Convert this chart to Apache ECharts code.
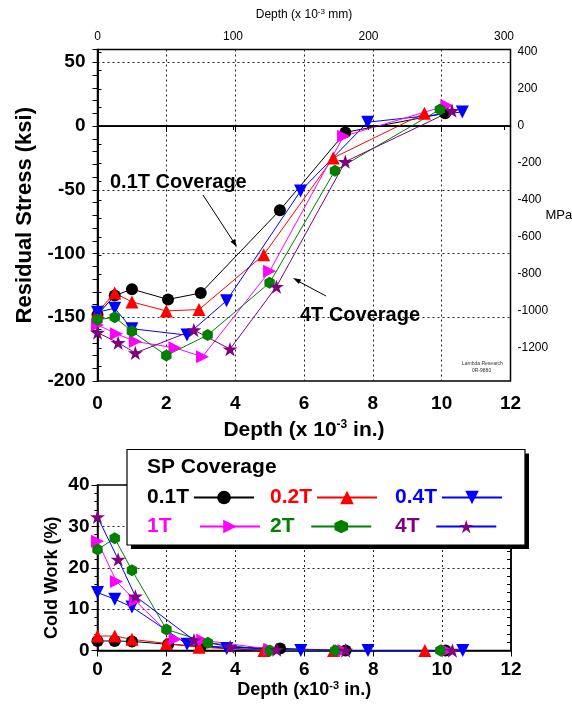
<!DOCTYPE html>
<html>
<head>
<meta charset="utf-8">
<script src="https://cdn.jsdelivr.net/npm/echarts@6/dist/echarts.min.js"></script>
<style>
  html, body { margin: 0; padding: 0; background: #fff; }
  #chart { width: 572px; height: 708px; }
</style>
</head>
<body>
<div id="chart"></div>
<script>
// series names
const names = ['0.1T', '0.2T', '0.4T', '1T', '2T', '4T'];

// depth (x 10^-3 in.) of each measurement point, per coverage
const depth01 = [0, 0.5, 1.0, 2.05, 3.0, 5.3, 7.2, 10.1];
const depth02 = [0, 0.5, 1.0, 2.0, 2.95, 4.83, 6.85, 9.5];
const depth04 = [0, 0.5, 1.0, 2.6, 3.75, 5.9, 7.85, 10.6];
const depth1 = [0, 0.55, 1.1, 2.25, 3.05, 5.0, 7.15, 10.15];
const depth2 = [0, 0.5, 1.0, 2.0, 3.2, 5.0, 6.9, 9.95];
const depth4 = [0, 0.6, 1.1, 2.8, 3.85, 5.2, 7.2, 10.3];

// residual stress (ksi)
const stress01 = [-148, -133, -128, -136, -131, -66, -5, 10];
const stress02 = [-146, -131, -138, -145, -144, -101, -25, 10];
const stress04 = [-146, -143, -159, -164, -137, -51, 3, 11];
const stress1 = [-156, -163, -169, -174, -181, -114, -8, 16];
const stress2 = [-152, -150, -161, -180, -164, -123, -35, 13];
const stress4 = [-162, -170, -178, -160, -175, -126, -28, 12];

// cold work (%)
const cold01 = [2.3, 2.3, 2.2, 1.5, 1.0, 0.5, 0, 0];
const cold02 = [3.5, 3.5, 2.7, 1.7, 0.8, 0, 0, 0];
const cold04 = [14.0, 12.4, 10.5, 1.5, 0.5, 0, 0, 0];
const cold1 = [26.4, 16.7, 12.0, 2.7, 2.5, 0.3, 0, 0];
const cold2 = [24.4, 27.1, 19.4, 5.1, 1.9, 0, 0, 0];
const cold4 = [32.3, 22.0, 13.1, 2.5, 0.9, 0.2, 0, 0];

// tick labels of the MPa axis
const mpaLabels = [-1200, -1000, -800, -600, -400, -200, 0, 200, 400];
const mpaTicks = [-1300, -1200, -1100, -1000, -900, -800, -700, -600, -500, -400, -300, -200, -100, 0, 100, 200, 300, 400];

const depths = [depth01, depth02, depth04, depth1, depth2, depth4];
const stresses = [stress01, stress02, stress04, stress1, stress2, stress4];
const colds = [cold01, cold02, cold04, cold1, cold2, cold4];

const KSI_TO_MPA = 6.895;
const FONT = 'Liberation Sans, Arial, sans-serif';

const STAR = 'path://M0,-100 L22.45,-30.9 L95.1,-30.9 L36.3,11.8 L58.8,80.9 L0,38.2 L-58.8,80.9 L-36.3,11.8 L-95.1,-30.9 L-22.45,-30.9 Z';
const HEX = 'path://M0,-100 L86.6,-50 L86.6,50 L0,100 L-86.6,50 L-86.6,-50 Z';

const colors = ['#000000', '#ff0000', '#0000ff', '#ff00ff', '#008000', '#800080'];
const symbols = ['circle', 'triangle', 'triangle', 'triangle', HEX, STAR];
const rotates = [0, 0, 180, -90, 0, 0];
const sizes = [12, 13, 13, 13, 12, 15];
const topLine = ['#000000', '#ff0000', '#0000ff', '#ff00ff', '#008000', '#800080'];
const bottomLine = ['#000000', '#ff0000', '#0000ff', '#ff00ff', '#008000', '#0000ff'];

function makeSeries(i, xi, yi, ys, lineColor) {
  return {
    name: names[i],
    type: 'line',
    xAxisIndex: xi,
    yAxisIndex: yi,
    data: depths[i].map((x, k) => [x, ys[k]]),
    symbol: symbols[i],
    symbolRotate: rotates[i],
    symbolSize: sizes[i],
    symbolKeepAspect: true,
    showAllSymbol: true,
    itemStyle: { color: colors[i] },
    lineStyle: { color: lineColor, width: 1 },
    emphasis: { disabled: true },
    animation: false
  };
}

const series = [];
// bottom chart first so the legend takes its (blue line) 4T icon
for (let i = 0; i < 6; i++) series.push(makeSeries(i, 2, 3, colds[i], bottomLine[i]));
for (let i = 0; i < 6; i++) series.push(makeSeries(i, 0, 0, stresses[i], topLine[i]));
// zero line of top chart
series[6].markLine = {
  silent: true,
  symbol: 'none',
  label: { show: false },
  lineStyle: { color: '#000', type: 'solid', width: 1.2 },
  animation: false,
  data: [{ yAxis: 0 }]
};

const axisLine = { show: true, lineStyle: { color: '#000', width: 1.5 } };
const dotted = { show: true, showMinLine: false, showMaxLine: false, lineStyle: { color: '#222', type: [2, 3], width: 1 } };
const boldLabel = { color: '#000', fontSize: 19, fontWeight: 'bold', fontFamily: FONT };

const legendLeft = [147, 270, 395, 147, 270, 395];
const legendTop = [487, 487, 487, 516, 516, 516];
const legendAlign = ['right', 'right', 'right', 'left', 'center', 'center'];

const legends = names.map((n, i) => ({
  data: [n],
  left: legendLeft[i],
  top: legendTop[i],
  align: 'right',
  padding: 0,
  itemWidth: 60,
  itemHeight: 17,
  selectedMode: false,
  z: 20,
  formatter: '{t|{name}}',
  textStyle: {
    rich: {
      t: { width: 48, align: legendAlign[i], color: colors[i], fontSize: 21, fontWeight: 'bold', fontFamily: FONT }
    }
  }
}));

const option = {
  backgroundColor: '#fff',
  animation: false,
  grid: [
    { left: 97.5, right: 61.5, top: 49.5, bottom: 327, outerBoundsMode: 'none', containLabel: false, show: true, borderColor: '#000', borderWidth: 1.5, backgroundColor: 'transparent' },
    { left: 97.5, right: 61, top: 485, bottom: 57.5, outerBoundsMode: 'none', containLabel: false, show: true, borderColor: '#000', borderWidth: 1.5, backgroundColor: 'transparent' }
  ],
  legend: legends,
  xAxis: [
    {
      gridIndex: 0, type: 'value', position: 'bottom', min: 0, max: 12, interval: 2,
      axisLine: axisLine, axisTick: { show: true, length: 6, lineStyle: { color: '#000' } },
      axisLabel: Object.assign({ margin: 13 }, boldLabel),
      splitLine: dotted,
      name: '{a|Depth (x 10}{s|-3}{a| in.)}', nameLocation: 'middle', nameGap: 38, nameMoveOverlap: false,
      nameTextStyle: { rich: {
        a: { fontSize: 21, fontWeight: 'bold', fontFamily: FONT, color: '#000' },
        s: { fontSize: 12, fontWeight: 'bold', fontFamily: FONT, color: '#000', padding: [0, 0, 10, 0] }
      } }
    },
    {
      gridIndex: 0, type: 'value', position: 'top', min: 0, max: 12 * 25.4, interval: 100,
      axisLine: axisLine, axisTick: { show: true, inside: true, length: 4, lineStyle: { color: '#000' } },
      axisLabel: { color: '#000', fontSize: 12, fontFamily: FONT, margin: 7, formatter: v => (Math.round(v) % 100 === 0 ? String(Math.round(v)) : '') },
      splitLine: { show: false },
      name: '{a|Depth (x 10}{s|-3}{a| mm)}', nameLocation: 'middle', nameGap: 28, nameMoveOverlap: false,
      nameTextStyle: { rich: {
        a: { fontSize: 12, fontFamily: FONT, color: '#000' },
        s: { fontSize: 8, fontFamily: FONT, color: '#000', padding: [0, 0, 6, 0] }
      } }
    },
    {
      gridIndex: 1, type: 'value', position: 'bottom', min: 0, max: 12, interval: 2,
      axisLine: axisLine, axisTick: { show: true, length: 6, lineStyle: { color: '#000' } },
      axisLabel: Object.assign({ margin: 10 }, boldLabel),
      splitLine: dotted,
      name: '{a|Depth (x10}{s|-3}{a| in.)}', nameLocation: 'middle', nameGap: 30, nameMoveOverlap: false,
      nameTextStyle: { rich: {
        a: { fontSize: 18, fontWeight: 'bold', fontFamily: FONT, color: '#000' },
        s: { fontSize: 11, fontWeight: 'bold', fontFamily: FONT, color: '#000', padding: [0, 0, 9, 0] }
      } }
    }
  ],
  yAxis: [
    {
      gridIndex: 0, type: 'value', position: 'left', min: -200, max: 60, interval: 10,
      axisLine: axisLine, axisTick: { show: true, length: 5, lineStyle: { color: '#000' } },
      axisLabel: Object.assign({ margin: 12, formatter: v => (Math.round(v) % 50 === 0 && Math.round(v) <= 50 ? String(Math.round(v)) : '') }, boldLabel),
      splitLine: { show: false },
      name: 'Residual Stress (ksi)', nameLocation: 'middle', nameGap: 62, nameMoveOverlap: false,
      nameTextStyle: { fontSize: 22, fontWeight: 'bold', fontFamily: FONT, color: '#000' }
    },
    {
      gridIndex: 0, type: 'value', position: 'right', min: -200 * KSI_TO_MPA, max: 60 * KSI_TO_MPA,
      axisLine: axisLine,
      axisTick: { show: true, length: 4, customValues: mpaTicks, lineStyle: { color: '#000' } },
      axisLabel: { color: '#000', fontSize: 12, fontFamily: FONT, margin: 7, customValues: mpaLabels, formatter: v => String(Math.round(v)) },
      splitLine: { show: false },
      name: 'MPa', nameLocation: 'middle', nameRotate: 0, nameGap: 35, nameMoveOverlap: false,
      nameTextStyle: { fontSize: 13, fontFamily: FONT, color: '#000' }
    },
    {
      gridIndex: 0, type: 'value', position: 'left', min: -200, max: 60, interval: 50,
      axisLine: { show: false }, axisTick: { show: false }, axisLabel: { show: false },
      splitLine: dotted
    },
    {
      gridIndex: 1, type: 'value', position: 'left', min: 0, max: 40, interval: 10,
      axisLine: axisLine, axisTick: { show: true, length: 6, lineStyle: { color: '#000' } },
      minorTick: { show: true, splitNumber: 5, length: 3, lineStyle: { color: '#000' } },
      axisLabel: Object.assign({ margin: 8 }, boldLabel),
      splitLine: dotted,
      name: 'Cold Work (%)', nameLocation: 'middle', nameGap: 36, nameMoveOverlap: false,
      nameTextStyle: { fontSize: 18, fontWeight: 'bold', fontFamily: FONT, color: '#000', padding: [0, 20, 0, 0] }
    },
    {
      gridIndex: 1, type: 'value', position: 'right', min: 0, max: 40, interval: 2,
      axisLine: axisLine, axisTick: { show: true, inside: true, length: 4, lineStyle: { color: '#000' } },
      axisLabel: { show: false }, splitLine: { show: false }
    }
  ],
  graphic: [
    { type: 'text', z: 10, left: 110, top: 172, style: { text: '0.1T Coverage', font: 'bold 20px ' + FONT, fill: '#000' } },
    { type: 'line', z: 10, shape: { x1: 203, y1: 195, x2: 235, y2: 244 }, style: { stroke: '#000', lineWidth: 1 } },
    { type: 'polygon', z: 10, shape: { points: [[237, 247], [230.5, 241.7], [234.7, 238.9]] }, style: { fill: '#000' } },
    { type: 'text', z: 10, left: 300, top: 305, style: { text: '4T Coverage', font: 'bold 20px ' + FONT, fill: '#000' } },
    { type: 'line', z: 10, shape: { x1: 326, y1: 296, x2: 296, y2: 280 }, style: { stroke: '#000', lineWidth: 1 } },
    { type: 'polygon', z: 10, shape: { points: [[293, 278], [301.2, 279.6], [298.8, 284]] }, style: { fill: '#000' } },
    { type: 'text', z: 10, left: 462, top: 361, style: { text: 'Lambda Research', font: '5px ' + FONT, fill: '#333' } },
    { type: 'text', z: 10, left: 472, top: 368, style: { text: '0R-9880', font: '5px ' + FONT, fill: '#333' } },
    { type: 'rect', z: 10, shape: { x: 131, y: 453.5, width: 398, height: 95.5 }, style: { fill: '#000' } },
    { type: 'rect', z: 11, shape: { x: 127, y: 449.5, width: 398, height: 95.5 }, style: { fill: '#fff', stroke: '#000', lineWidth: 1.2 } },
    { type: 'text', z: 12, left: 147, top: 457, style: { text: 'SP Coverage', font: 'bold 21px ' + FONT, fill: '#000' } }
  ],
  series: series
};

const chart = echarts.init(document.getElementById('chart'), null, { renderer: 'canvas' });
chart.setOption(option);
</script>
</body>
</html>
